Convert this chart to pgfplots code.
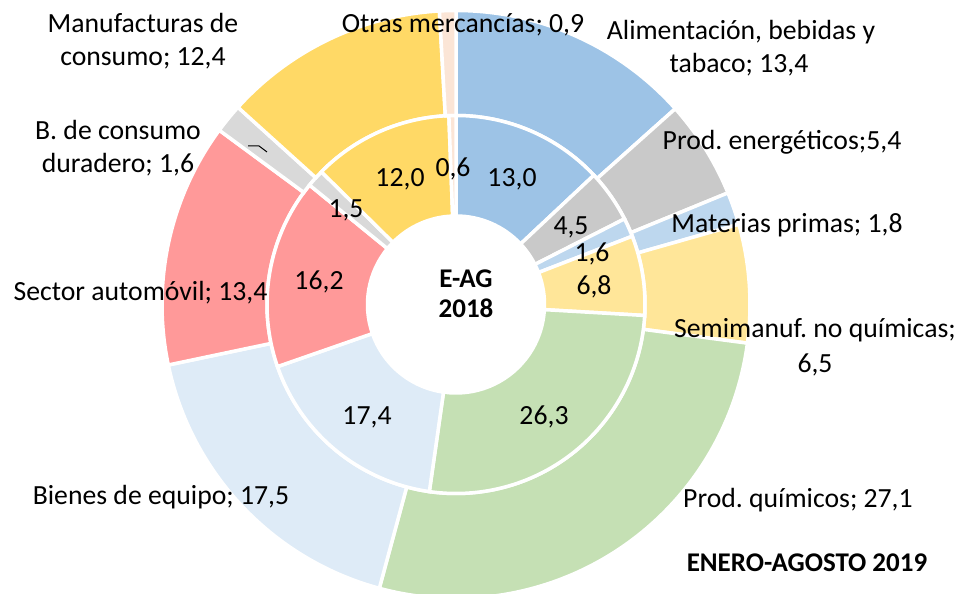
\documentclass[border=0pt]{standalone}
\usepackage{fontspec}
\setmainfont{Carlito}
\usepackage{pgfplots}
\usepackage{pgfplotstable}
\pgfplotsset{compat=1.18}
\frenchspacing

\definecolor{cAlim}{RGB}{157,195,230}
\definecolor{cEner}{RGB}{201,201,201}
\definecolor{cMat}{RGB}{189,215,238}
\definecolor{cSemi}{RGB}{255,230,153}
\definecolor{cQuim}{RGB}{197,224,180}
\definecolor{cBien}{RGB}{222,235,247}
\definecolor{cAuto}{RGB}{255,153,153}
\definecolor{cDur}{RGB}{217,217,217}
\definecolor{cManu}{RGB}{255,217,102}
\definecolor{cOtras}{RGB}{251,229,214}

% outer ring: enero-agosto 2019
\pgfplotstableread{
val  col
13.4 cAlim
5.4  cEner
1.8  cMat
6.5  cSemi
27.1 cQuim
17.5 cBien
13.4 cAuto
1.6  cDur
12.4 cManu
0.9  cOtras
}\enagosto

% inner ring: E-AG 2018
\pgfplotstableread{
val  col
13.0 cAlim
4.5  cEner
1.6  cMat
6.8  cSemi
26.3 cQuim
17.4 cBien
16.2 cAuto
1.5  cDur
12.0 cManu
0.6  cOtras
}\eag

% start/end angle of each slice, clockwise from 12 o'clock
\newcommand\ringangles[2]{%
  \pgfplotstablegetrowsof{#1}%
  \pgfmathtruncatemacro\nlast{\pgfplotsretval-1}%
  \def\tot{0}%
  \pgfplotsforeachungrouped \rr in {0,...,\nlast}{%
    \pgfplotstablegetelem{\rr}{val}\of#1%
    \pgfmathsetmacro\tot{\tot+\pgfplotsretval}}%
  \pgfmathsetmacro\fac{360/\tot}%
  \def\cum{0}%
  \pgfplotsforeachungrouped \rr in {0,...,\nlast}{%
    \pgfplotstablegetelem{\rr}{val}\of#1%
    \let\segv\pgfplotsretval
    \pgfmathsetmacro\segA{90-\fac*\cum}%
    \pgfmathsetmacro\cum{\cum+\segv}%
    \pgfmathsetmacro\segB{90-\fac*\cum}%
    \pgfplotstablegetelem{\rr}{col}\of#1%
    \expandafter\xdef\csname #2a\rr\endcsname{\segA}%
    \expandafter\xdef\csname #2b\rr\endcsname{\segB}%
    \expandafter\xdef\csname #2c\rr\endcsname{\pgfplotsretval}%
  }}

\def\cx{456}
\def\cy{289.5}

% #1 ring, #2 slice, #3 inner radius, #4 outer radius
\newcommand\sector[4]{%
  \fill[fill=\csname #1c#2\endcsname, draw=white, line width=3.5pt]
    (axis cs:{\cx+#4*cos(\csname #1a#2\endcsname)},{\cy+#4*sin(\csname #1a#2\endcsname)})
    arc[start angle=\csname #1a#2\endcsname, end angle=\csname #1b#2\endcsname, radius=#4pt]
    -- (axis cs:{\cx+#3*cos(\csname #1b#2\endcsname)},{\cy+#3*sin(\csname #1b#2\endcsname)})
    arc[start angle=\csname #1b#2\endcsname, end angle=\csname #1a#2\endcsname, radius=#3pt]
    -- cycle;}

\newcommand\lbl{\fontsize{27.7}{33}\selectfont}
\tikzset{lab/.style={font=\lbl, inner sep=0pt, anchor=base},
  labb/.style={lab, font=\fontsize{27}{33}\selectfont\bfseries}}

\begin{document}
\ringangles{\enagosto}{out}%
\ringangles{\eag}{in}%
\begin{tikzpicture}
\begin{axis}[
  width=962pt, height=594pt, scale only axis,
  xmin=0, xmax=962, ymin=0, ymax=594,
  hide axis, clip=false,
]
\pgfplotsinvokeforeach{0,...,9}{\sector{out}{#1}{189}{294}\sector{in}{#1}{88.5}{189}}

% outer labels
\node[lab] at (axis cs:143,561) {Manufacturas de};
\node[lab] at (axis cs:143,528) {consumo; 12,4};
\node[lab] at (axis cs:463,561) {Otras mercancías; 0,9};
\node[lab] at (axis cs:741,554) {Alimentación, bebidas y};
\node[lab] at (axis cs:739,521) {tabaco; 13,4};
\node[lab] at (axis cs:782,444) {Prod. energéticos;5,4};
\node[lab] at (axis cs:787,361) {Materias primas; 1,8};
\node[lab] at (axis cs:815,256) {Semimanuf. no químicas;};
\node[lab] at (axis cs:815,221) {6,5};
\node[lab] at (axis cs:798,86) {Prod. químicos; 27,1};
\node[lab] at (axis cs:161,89) {Bienes de equipo; 17,5};
\node[lab] at (axis cs:140.5,293) {Sector automóvil; 13,4};
\node[lab] at (axis cs:118,454) {B. de consumo};
\node[lab] at (axis cs:118,421) {duradero; 1,6};
\draw[black, line width=1pt] (axis cs:248,448) -- (axis cs:259,448) -- (axis cs:267,442);

% inner labels
\node[lab] at (axis cs:400,407) {12,0};
\node[lab] at (axis cs:453,417) {0,6};
\node[lab] at (axis cs:512,407) {13,0};
\node[lab] at (axis cs:571,359) {4,5};
\node[lab] at (axis cs:592,332) {1,6};
\node[lab] at (axis cs:594,299) {6,8};
\node[lab] at (axis cs:544,169) {26,3};
\node[lab] at (axis cs:367,169) {17,4};
\node[lab] at (axis cs:319,304) {16,2};
\node[lab] at (axis cs:346,376) {1,5};
\node[labb] at (axis cs:466,306) {E-AG};
\node[labb] at (axis cs:466,276) {2018};

\node[labb] at (axis cs:807,22) {ENERO-AGOSTO 2019};
\end{axis}
\pgfresetboundingbox
\path (current axis.south west) rectangle (current axis.north east);
\end{tikzpicture}
\end{document}
